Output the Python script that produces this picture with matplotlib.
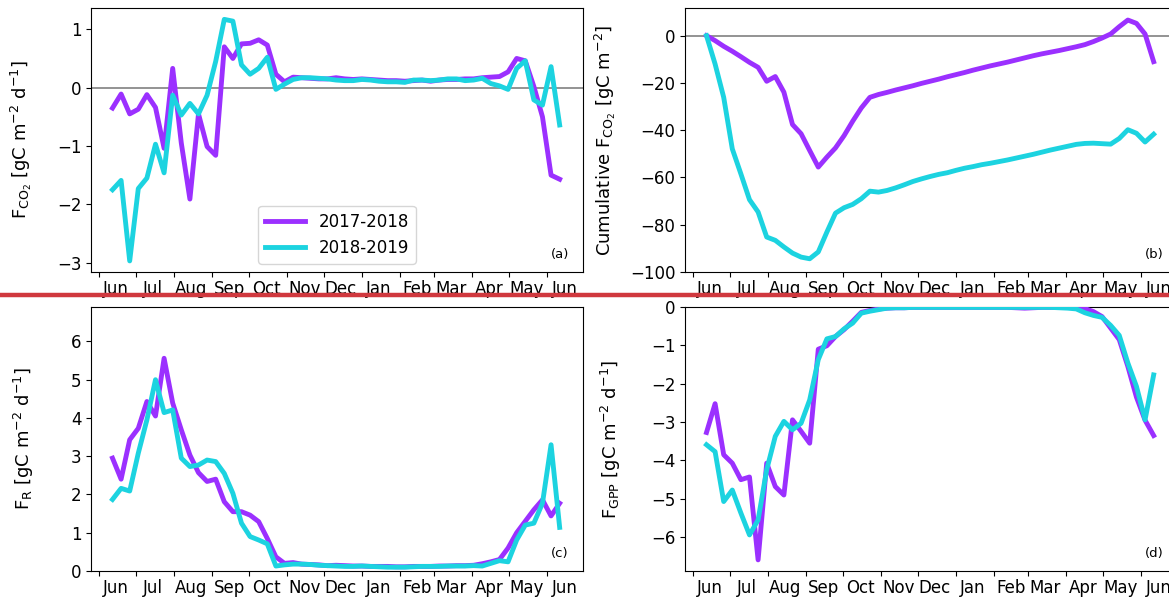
"""Weekly CO2 fluxes, two seasons (2017-2018 vs 2018-2019): net flux, cumulative net flux,
respiration and GPP in a 2x2 panel figure."""
import numpy as np
import matplotlib; matplotlib.use("Agg"); import matplotlib.pyplot as plt
import matplotlib.dates as mdates
from matplotlib.lines import Line2D

# weekly time axis (both seasons drawn on the 2017-2018 calendar)
weeks = np.datetime64("2017-06-12") + 7 * np.arange(53)

nee17 = [-0.35, -0.11, -0.45, -0.37, -0.12, -0.34, -1.04, 0.33, -0.95, -1.91, -0.45, -1.01, -1.16,
         0.70, 0.50, 0.75, 0.76, 0.82, 0.73, 0.23, 0.10, 0.18, 0.17, 0.16, 0.15, 0.15, 0.17, 0.15,
         0.14, 0.15, 0.14, 0.13, 0.12, 0.12, 0.11, 0.12, 0.13, 0.11, 0.13, 0.14, 0.14, 0.15, 0.15,
         0.17, 0.18, 0.19, 0.27, 0.50, 0.46, 0.02, -0.50, -1.50, -1.57]
nee18 = [-1.75, -1.59, -2.97, -1.73, -1.55, -0.97, -1.46, -0.13, -0.47, -0.27, -0.45, -0.13, 0.45,
         1.17, 1.14, 0.39, 0.23, 0.33, 0.52, -0.03, 0.06, 0.14, 0.17, 0.17, 0.16, 0.15, 0.13, 0.12,
         0.12, 0.14, 0.13, 0.11, 0.10, 0.10, 0.09, 0.13, 0.13, 0.12, 0.13, 0.15, 0.15, 0.12, 0.13,
         0.16, 0.07, 0.03, -0.03, 0.33, 0.46, -0.21, -0.30, 0.36, -0.64]

cum17 = [0.0, -2.1, -4.5, -6.6, -8.9, -11.3, -13.4, -19.3, -17.3, -23.9, -37.6, -41.5, -48.6,
         -55.6, -51.4, -47.5, -42.3, -36.2, -30.6, -26.1, -24.9, -24.0, -23.0, -22.1, -21.2, -20.2,
         -19.3, -18.4, -17.4, -16.5, -15.6, -14.6, -13.7, -12.8, -12.0, -11.2, -10.3, -9.4, -8.5,
         -7.7, -7.0, -6.3, -5.5, -4.7, -3.8, -2.5, -1.0, 0.7, 3.8, 6.6, 5.2, 0.7, -11.0]
cum18 = [0.0, -12.0, -26.1, -47.9, -58.5, -69.4, -74.6, -85.2, -86.6, -89.4, -92.0, -93.7, -94.4,
         -91.5, -83.1, -75.1, -72.8, -71.4, -69.0, -65.8, -66.2, -65.5, -64.4, -63.1, -61.7, -60.6,
         -59.6, -58.7, -58.0, -57.0, -56.1, -55.4, -54.6, -54.0, -53.3, -52.6, -51.8, -51.0, -50.2,
         -49.3, -48.4, -47.6, -46.8, -46.0, -45.6, -45.5, -45.7, -45.9, -43.5, -39.8, -41.3, -45.0, -41.7]

r17 = [2.95, 2.40, 3.43, 3.73, 4.43, 4.05, 5.56, 4.39, 3.69, 3.03, 2.57, 2.34, 2.40,
       1.81, 1.55, 1.55, 1.46, 1.29, 0.85, 0.37, 0.20, 0.22, 0.18, 0.17, 0.16, 0.14, 0.15, 0.14,
       0.13, 0.13, 0.12, 0.12, 0.12, 0.11, 0.11, 0.12, 0.12, 0.12, 0.13, 0.13, 0.14, 0.14, 0.15,
       0.19, 0.24, 0.30, 0.60, 1.00, 1.30, 1.60, 1.86, 1.44, 1.77]
r18 = [1.87, 2.16, 2.09, 3.08, 3.95, 5.00, 4.14, 4.21, 2.95, 2.73, 2.77, 2.90, 2.86,
       2.55, 2.03, 1.25, 0.90, 0.81, 0.71, 0.13, 0.16, 0.18, 0.18, 0.17, 0.15, 0.14, 0.13, 0.12,
       0.12, 0.13, 0.12, 0.11, 0.10, 0.10, 0.10, 0.11, 0.12, 0.12, 0.12, 0.13, 0.13, 0.13, 0.14,
       0.13, 0.20, 0.27, 0.24, 0.81, 1.20, 1.25, 1.77, 3.30, 1.14]

gpp17 = [-3.27, -2.52, -3.85, -4.07, -4.50, -4.43, -6.59, -4.07, -4.68, -4.90, -2.94, -3.24, -3.55,
         -1.10, -1.01, -0.77, -0.59, -0.37, -0.14, -0.09, -0.05, -0.03, -0.02, -0.02, -0.01, -0.01,
         -0.01, -0.01, -0.01, -0.01, -0.01, -0.01, -0.01, -0.01, -0.01, -0.01, -0.02, -0.03, -0.02,
         -0.01, -0.01, -0.01, -0.01, -0.02, -0.04, -0.12, -0.25, -0.55, -0.85, -1.55, -2.35, -2.95, -3.35]
gpp18 = [-3.59, -3.77, -5.07, -4.77, -5.37, -5.94, -5.55, -4.24, -3.37, -2.98, -3.20, -3.03, -2.42,
         -1.37, -0.83, -0.77, -0.57, -0.42, -0.16, -0.11, -0.07, -0.03, -0.02, -0.02, -0.01, -0.01,
         -0.01, -0.01, -0.01, -0.01, -0.01, -0.01, -0.01, -0.01, -0.01, -0.01, -0.01, -0.01, -0.01,
         -0.01, -0.01, -0.02, -0.03, -0.05, -0.15, -0.22, -0.27, -0.48, -0.74, -1.46, -2.07, -2.94, -1.77]

seasons = ["2017-2018", "2018-2019"]
C17, C18 = "#9b30ff", "#1cd3e0"
LW = 3.5
FS = 12
XLIM = (np.datetime64("2017-05-25T12"), np.datetime64("2018-06-30"))

fig = plt.figure(figsize=(11.69, 6), dpi=100)
W, H = 492 / 1169, 264 / 600
pos = {"a": [91 / 1169, 1 - 272 / 600, W, H], "b": [685 / 1169, 1 - 272 / 600, W, H],
       "c": [91 / 1169, 1 - 571 / 600, W, H], "d": [685 / 1169, 1 - 571 / 600, W, H]}

def panel(key, y17, y18, ylabel, ylim, yticks, labx, zero=False):
    ax = fig.add_axes(pos[key])
    if zero:
        ax.axhline(0, color="gray", lw=1.2, zorder=1)
    ax.plot(weeks, y17, color=C17, lw=LW, label=seasons[0], zorder=3)
    ax.plot(weeks, y18, color=C18, lw=LW, label=seasons[1], zorder=3)
    ax.set_xlim(*XLIM); ax.set_ylim(*ylim); ax.set_yticks(yticks)
    ax.xaxis.set_major_locator(mdates.MonthLocator())
    ax.xaxis.set_major_formatter(plt.NullFormatter())
    ax.xaxis.set_minor_locator(mdates.MonthLocator(bymonthday=15))
    ax.xaxis.set_minor_formatter(mdates.DateFormatter("%b"))
    ax.tick_params(axis="x", which="minor", length=0, labelsize=FS, pad=6)
    ax.tick_params(axis="both", which="major", length=3.5, labelsize=FS)
    ax.set_ylabel(ylabel, fontsize=13)
    ax.yaxis.set_label_coords(labx, 0.5)
    ax.text(0.953, 0.065, f"({key})", transform=ax.transAxes, ha="center", va="center", fontsize=9.5)
    return ax

axa = panel("a", nee17, nee18, r"F$_{\mathrm{CO_2}}$ [gC m$^{-2}$ d$^{-1}$]", (-3.16, 1.365),
            [-3, -2, -1, 0, 1], -0.115, zero=True)
axa.legend(loc="lower center", fontsize=12, handlelength=2.4, borderaxespad=0.5)
panel("b", cum17, cum18, r"Cumulative F$_{\mathrm{CO_2}}$ [gC m$^{-2}$]", (-99.7, 11.7),
      [-100, -80, -60, -40, -20, 0], -0.136, zero=True)
panel("c", r17, r18, r"F$_{\mathrm{R}}$ [gC m$^{-2}$ d$^{-1}$]", (0, 6.9), [0, 1, 2, 3, 4, 5, 6], -0.112)
panel("d", gpp17, gpp18, r"F$_{\mathrm{GPP}}$ [gC m$^{-2}$ d$^{-1}$]", (-6.88, 0),
      [-6, -5, -4, -3, -2, -1, 0], -0.126)

# red separator between the two rows
fig.add_artist(Line2D([0, 1], [1 - 295 / 600] * 2, transform=fig.transFigure, color="#d0383e", lw=3.2, zorder=10))

fig.savefig("out.png", dpi=100)
